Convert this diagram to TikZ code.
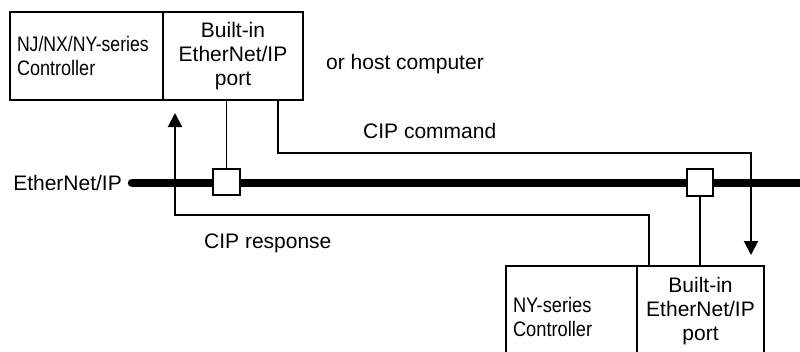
\documentclass[tikz,border=0pt]{standalone}
\usepackage{fontspec}
\setmainfont{Liberation Sans}
\usetikzlibrary{arrows.meta}
\begin{document}
\begin{tikzpicture}[x=1pt,y=-1pt,
  txt/.style={font=\fontsize{21pt}{24pt}\selectfont, inner sep=0pt},
  box/.style={draw, line width=1.5pt, inner sep=0pt, txt},
  tap/.style={draw, line width=1.5pt, fill=white, minimum width=27pt, minimum height=26pt, inner sep=0pt},
  stub/.style={line width=1.4pt},
  sig/.style={line width=2pt, -{Triangle[width=14pt,length=14pt]}},
  bus/.style={line width=8.5pt, line cap=round}]
\useasboundingbox (0,0) rectangle (800,351);
% top controller
\node[box, minimum width=153pt, minimum height=88pt, text width=139pt, inner xsep=7pt, align=left] (ctl1) at (86.5,56)
  {\scalebox{0.84}[1]{NJ/NX/NY-series}\\\scalebox{0.86}[1]{Controller}};
\node[box, minimum width=140pt, minimum height=88pt, align=center] (port1) at (233,56)
  {Built-in\\EtherNet/IP\\port};
% bottom controller
\node[box, minimum width=131pt, minimum height=102pt, text width=117pt, inner xsep=7pt, align=left] (ctl2) at (571.5,317)
  {\scalebox{0.87}[1]{NY-series}\\\scalebox{0.87}[1]{Controller}};
\node[box, minimum width=127pt, minimum height=90pt, align=center] (port2) at (700.5,311)
  {Built-in\\EtherNet/IP\\port};
% bus
\node[txt, anchor=base east] (ethlbl) at (122,190) {EtherNet/IP};
\coordinate (busR) at (806,182);
\draw[bus] ([xshift=10pt,yshift=-0.5pt]ethlbl.east) coordinate (busL) -- (busL -| busR);
\node[tap] (tap1) at (226.5,182) {};
\node[tap, minimum width=26pt, minimum height=27pt] (tap2) at (700,182.5) {};
\draw[stub] (tap1.north) -- (tap1.north |- port1.south);
\draw[stub] (tap2.south) -- (tap2.south |- port2.north);
% CIP command
\coordinate (cmdx) at (278,0);
\coordinate (cmdEnd) at (751,255);
\draw[sig] (port1.south -| cmdx) -- ++(0,52) -| (cmdEnd);
% CIP response
\coordinate (rspx) at (649,0);
\coordinate (rspEnd) at (175,113);
\draw[sig] (port2.north -| rspx) -- ++(0,-50) -| (rspEnd);
% labels
\node[txt, anchor=base west] (host) at (326,69) {or host computer};
\node[txt, anchor=base west] (cmd) at (363,138) {CIP command};
\node[txt, anchor=base west] (rsp) at (204,248) {CIP response};
\end{tikzpicture}
\end{document}
